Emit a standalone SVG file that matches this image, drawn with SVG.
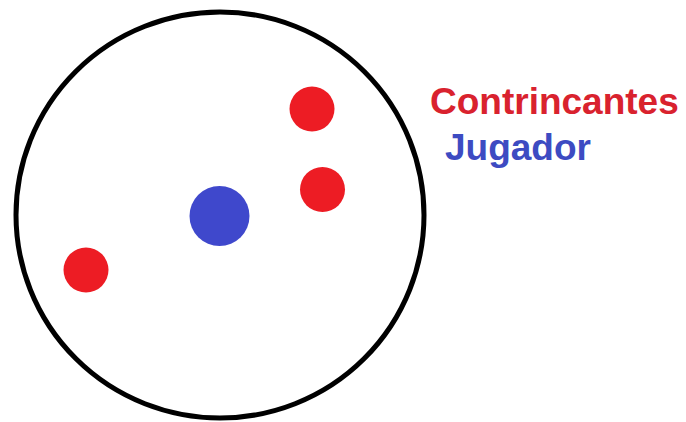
<svg xmlns="http://www.w3.org/2000/svg" width="686" height="422" viewBox="0 0 686 422">
<style>
.red{fill:#ED1C24}
.blue{fill:#3F48CC}
.lbl{font-family:"Liberation Sans",Arial,sans-serif;font-weight:bold;font-size:37px}
</style>
<rect width="686" height="422" fill="#ffffff"/>
<g id="campo"><ellipse cx="220" cy="215" rx="204" ry="203" fill="none" stroke="#000" stroke-width="5"/></g>
<g id="contrincante1"><circle class="red" cx="312" cy="109" r="22.5"/></g>
<g id="contrincante2"><circle class="red" cx="322.5" cy="189.5" r="22.5"/></g>
<g id="contrincante3"><circle class="red" cx="86" cy="270" r="22.5"/></g>
<g id="jugador"><circle class="blue" cx="219.5" cy="216" r="30"/></g>
<g id="leyenda">
<text class="lbl" x="430" y="114" fill="#D9222E">Contrincantes</text>
<text class="lbl" x="445" y="160" fill="#3D4BC2">Jugador</text>
</g>
</svg>
